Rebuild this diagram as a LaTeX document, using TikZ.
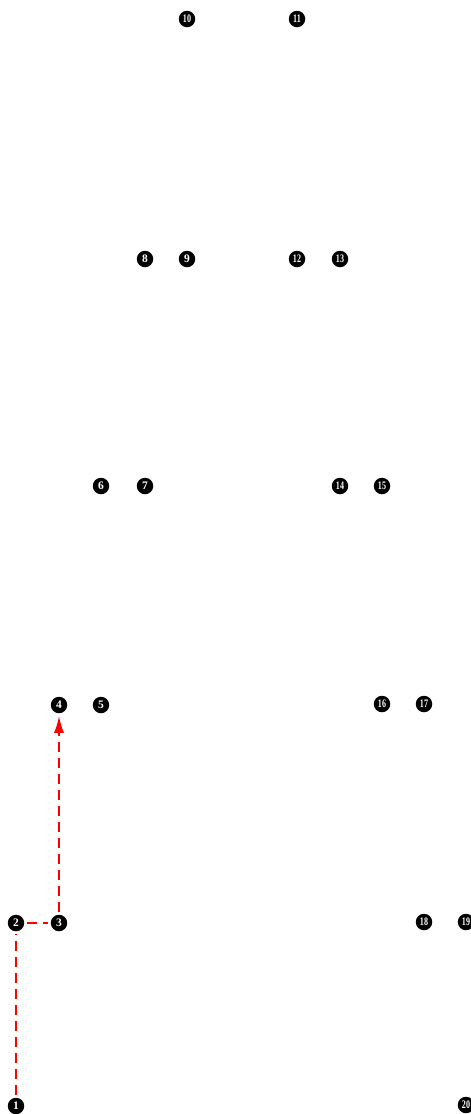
\documentclass[tikz,border=0pt]{standalone}
\usepackage{fontspec}
\setmainfont{Liberation Serif}
\usetikzlibrary{arrows.meta}
\tikzset{
  dot/.style={circle,fill=black,draw=none,minimum size=16.5pt,inner sep=0pt,outer sep=2.5pt,
    text=white,font=\bfseries\fontsize{11.5}{11.5}\selectfont},
  link/.style={red,line width=2pt,dash pattern=on 10pt off 6pt},
}
\newcommand{\nn}[1]{\scalebox{0.7}[1]{#1}}
\begin{document}
\begin{tikzpicture}[x=1pt,y=-1pt]
\useasboundingbox (0,0) rectangle (471,1114);
\node[dot] (n1) at (16,1106) {1};
\node[dot] (n2) at (16,923) {2};
\node[dot] (n3) at (59,923) {3};
\node[dot] (n4) at (59,705) {4};
\node[dot] (n5) at (101,705) {5};
\node[dot] (n6) at (101,486) {6};
\node[dot] (n7) at (145,486) {7};
\node[dot] (n8) at (145,259) {8};
\node[dot] (n9) at (187,259) {9};
\node[dot] (n10) at (187,19) {\nn{10}};
\node[dot] (n11) at (297,19) {\nn{11}};
\node[dot] (n12) at (297,259) {\nn{12}};
\node[dot] (n13) at (340,259) {\nn{13}};
\node[dot] (n14) at (340,486) {\nn{14}};
\node[dot] (n15) at (382,486) {\nn{15}};
\node[dot] (n16) at (382,704) {\nn{16}};
\node[dot] (n17) at (424,704) {\nn{17}};
\node[dot] (n18) at (424,922) {\nn{18}};
\node[dot] (n19) at (466,922) {\nn{19}};
\node[dot] (n20) at (466,1105) {\nn{20}};
\draw[link,-{Latex[length=17pt,width=10pt]}] (n1) -- (n2) -- (n3) -- (n4);
\end{tikzpicture}
\end{document}
